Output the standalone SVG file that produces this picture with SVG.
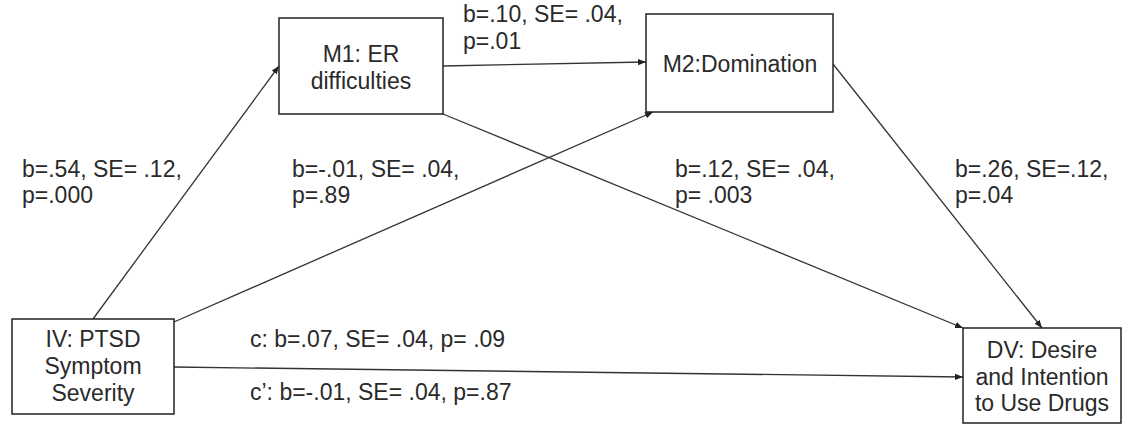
<svg xmlns="http://www.w3.org/2000/svg" width="1123" height="427" viewBox="0 0 1123 427">
  <defs>
    <marker id="arrow" viewBox="0 0 10 10" refX="10" refY="5" markerWidth="8" markerHeight="8" markerUnits="userSpaceOnUse" orient="auto">
      <path d="M0,1 L10,5 L0,9 Z" fill="#222"/>
    </marker>
  </defs>
  <style>
    .box { fill: #ffffff; stroke: #222222; stroke-width: 1.5; }
    .edge { fill: none; stroke: #333333; stroke-width: 1.3; marker-end: url(#arrow); }
    text { font-family: "Liberation Sans", Arial, sans-serif; font-size: 23px; fill: #2a2a2a; }
    .node-label { text-anchor: middle; }
  </style>
  <rect width="1123" height="427" fill="#ffffff"/>

  <!-- connectors -->
  <g id="connectors">
    <line class="edge" x1="93" y1="319" x2="279" y2="66"/>
    <line class="edge" x1="174" y1="322" x2="653" y2="112"/>
    <line class="edge" x1="443" y1="66" x2="646" y2="62"/>
    <line class="edge" x1="443" y1="114" x2="963" y2="328"/>
    <line class="edge" x1="833" y1="64" x2="1042" y2="328"/>
    <line class="edge" x1="174" y1="367" x2="963" y2="377"/>
  </g>

  <!-- path coefficient labels -->
  <g id="edge-labels">
    <text x="22" y="177">b=.54, SE= .12,</text>
    <text x="22" y="203">p=.000</text>
    <text x="292" y="177">b=-.01, SE= .04,</text>
    <text x="292" y="203">p=.89</text>
    <text x="463" y="22">b=.10, SE= .04,</text>
    <text x="463" y="49">p=.01</text>
    <text x="675" y="177">b=.12, SE= .04,</text>
    <text x="675" y="203">p= .003</text>
    <text x="955" y="177">b=.26, SE=.12,</text>
    <text x="955" y="203">p=.04</text>
    <text x="250" y="347">c: b=.07, SE= .04, p= .09</text>
    <text x="250" y="400">c’: b=-.01, SE= .04, p=.87</text>
  </g>

  <!-- nodes -->
  <g id="node-iv">
    <rect class="box" x="12" y="319" width="162" height="95"/>
    <text class="node-label" x="93" y="347">IV: PTSD</text>
    <text class="node-label" x="93" y="374">Symptom</text>
    <text class="node-label" x="93" y="401">Severity</text>
  </g>
  <g id="node-m1">
    <rect class="box" x="279" y="18" width="164" height="96"/>
    <text class="node-label" x="361" y="62">M1: ER</text>
    <text class="node-label" x="361" y="89">difficulties</text>
  </g>
  <g id="node-m2">
    <rect class="box" x="646" y="14" width="187" height="98"/>
    <text class="node-label" x="740" y="72">M2:Domination</text>
  </g>
  <g id="node-dv">
    <rect class="box" x="963" y="328" width="158" height="95"/>
    <text class="node-label" x="1042" y="358">DV: Desire</text>
    <text class="node-label" x="1042" y="385">and Intention</text>
    <text class="node-label" x="1042" y="411">to Use Drugs</text>
  </g>
</svg>
